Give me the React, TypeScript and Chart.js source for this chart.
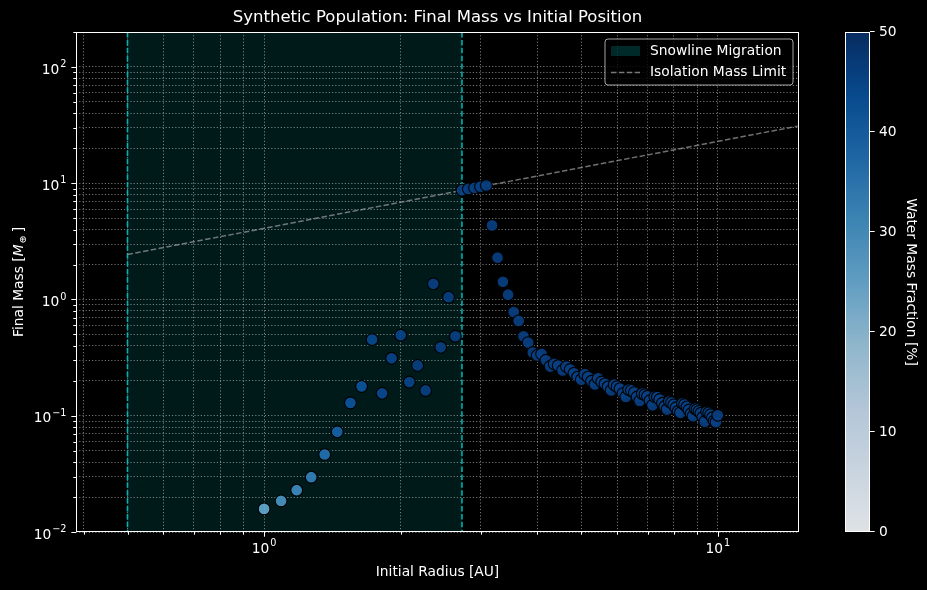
import { useEffect, useRef } from 'react';
import { Chart, registerables } from 'chart.js';

Chart.register(...registerables);

const W = 927;
const H = 590;
const FONT = '"DejaVu Sans", "Liberation Sans", sans-serif';

// Initial semi-major axis of each synthetic planet [AU]
const initialRadius = [
  1.0, 1.09, 1.18, 1.27, 1.36, 1.45, 1.55, 1.64, 1.73, 1.82,
  1.91, 2.0, 2.09, 2.18, 2.27, 2.36, 2.45, 2.55, 2.64, 2.73,
  2.82, 2.91, 3.0, 3.09, 3.18, 3.27, 3.36, 3.45, 3.55, 3.64,
  3.73, 3.82, 3.91, 4.0, 4.09, 4.18, 4.27, 4.36, 4.45, 4.55,
  4.64, 4.73, 4.82, 4.91, 5.0, 5.09, 5.18, 5.27, 5.36, 5.45,
  5.55, 5.64, 5.73, 5.82, 5.91, 6.0, 6.09, 6.18, 6.27, 6.36,
  6.45, 6.55, 6.64, 6.73, 6.82, 6.91, 7.0, 7.09, 7.18, 7.27,
  7.36, 7.45, 7.55, 7.64, 7.73, 7.82, 7.91, 8.0, 8.09, 8.18,
  8.27, 8.36, 8.45, 8.55, 8.64, 8.73, 8.82, 8.91, 9.0, 9.09,
  9.18, 9.27, 9.36, 9.45, 9.55, 9.64, 9.73, 9.82, 9.91, 10.0,
];

// Final planet mass [Earth masses]
const finalMass = [
  0.0158, 0.0185, 0.0229, 0.0296, 0.0464, 0.0728, 0.129, 0.179, 0.452, 0.156,
  0.312, 0.493, 0.195, 0.271, 0.165, 1.365, 0.388, 1.047, 0.483, 8.72,
  8.93, 9.14, 9.35, 9.56, 4.34, 2.29, 1.42, 1.1, 0.78, 0.655,
  0.483, 0.426, 0.35, 0.33, 0.34, 0.3, 0.265, 0.28, 0.27, 0.245,
  0.265, 0.25, 0.232, 0.215, 0.204, 0.228, 0.215, 0.198, 0.186, 0.21,
  0.195, 0.188, 0.177, 0.165, 0.185, 0.178, 0.171, 0.155, 0.145, 0.168,
  0.165, 0.158, 0.145, 0.134, 0.155, 0.152, 0.147, 0.135, 0.123, 0.146,
  0.145, 0.138, 0.128, 0.12, 0.113, 0.133, 0.13, 0.124, 0.117, 0.109,
  0.106, 0.128, 0.125, 0.119, 0.112, 0.104, 0.099, 0.115, 0.113, 0.109,
  0.105, 0.097, 0.089, 0.108, 0.106, 0.102, 0.096, 0.09, 0.088, 0.101,
];

// Water mass fraction of each planet [%]
const waterFraction = [
  26, 30, 32, 34, 37, 40, 43, 43, 45, 45,
  46, 46, 46, 47, 47, 47, 47, 47, 47, 47,
  47, 47, 47, 47, 47, 47, 47, 47, 47, 47,
  47, 47, 47, 47, 47, 47, 47, 47, 47, 47,
  47, 47, 47, 47, 47, 47, 47, 47, 47, 47,
  47, 47, 47, 47, 47, 47, 47, 47, 47, 47,
  47, 47, 47, 47, 47, 47, 47, 47, 47, 47,
  47, 47, 47, 47, 47, 47, 47, 47, 47, 47,
  47, 47, 47, 47, 47, 47, 47, 47, 47, 47,
  47, 47, 47, 47, 47, 47, 47, 47, 47, 47,
];

// Isolation mass limit (straight line in log-log space)
const isolationRadius = [0.5, 15];
const isolationMass = [2.44, 31];

// Snowline migration zone [AU]
const snowlineInner = 0.5;
const snowlineOuter = 2.73;

// Axis limits and tick values
const xLimits = [0.385, 15.1];
const yLimits = [0.01, 200];
const xTickValues = [0.4, 0.5, 0.6, 0.7, 0.8, 0.9, 1, 2, 3, 4, 5, 6, 7, 8, 9, 10];
const xMajorTicks = [1, 10];
const yTickValues = [
  0.01, 0.02, 0.03, 0.04, 0.05, 0.06, 0.07, 0.08, 0.09,
  0.1, 0.2, 0.3, 0.4, 0.5, 0.6, 0.7, 0.8, 0.9,
  1, 2, 3, 4, 5, 6, 7, 8, 9,
  10, 20, 30, 40, 50, 60, 70, 80, 90,
  100, 200,
];
const yMajorTicks = [0.01, 0.1, 1, 10, 100];
const colorbarTicks = [0, 10, 20, 30, 40, 50];
const colorbarRange = [0, 50];

// "Blues" colour ramp
const BLUES = [
  [247, 251, 255], [222, 235, 247], [198, 219, 239], [158, 202, 225], [107, 174, 214],
  [66, 146, 198], [33, 113, 181], [8, 81, 156], [8, 48, 107],
];
const POINT_ALPHA = 0.9;

function blues(t: number): number[] {
  const c = Math.max(0, Math.min(1, t)) * (BLUES.length - 1);
  const i = Math.min(BLUES.length - 2, Math.floor(c));
  const f = c - i;
  return [0, 1, 2].map((k) => BLUES[i][k] + (BLUES[i + 1][k] - BLUES[i][k]) * f);
}

function bluesRgba(t: number, a: number) {
  const [r, g, b] = blues(t);
  return `rgba(${Math.round(r)},${Math.round(g)},${Math.round(b)},${a})`;
}

const TICK_PX = 13.8;
const EXP_PX = 9.7;
const TITLE_PX = 16.5;

function powerLabel(v: number) {
  const e = Math.round(Math.log10(v));
  return e < 0 ? '\u2212' + Math.abs(e) : String(e);
}

function measurePow(ctx: CanvasRenderingContext2D, exp: string) {
  ctx.font = `${TICK_PX}px ${FONT}`;
  const bw = ctx.measureText('10').width;
  ctx.font = `${EXP_PX}px ${FONT}`;
  const ew = ctx.measureText(exp).width;
  return { bw, ew, w: bw + ew + 1 };
}

// draws 10^exp with the left edge at x and the base text centred on cy
function drawPow(ctx: CanvasRenderingContext2D, exp: string, x: number, cy: number) {
  const m = measurePow(ctx, exp);
  ctx.textAlign = 'left';
  ctx.textBaseline = 'middle';
  ctx.font = `${TICK_PX}px ${FONT}`;
  ctx.fillText('10', x, cy);
  ctx.font = `${EXP_PX}px ${FONT}`;
  ctx.fillText(exp, x + m.bw + 1, cy - 5.5);
}

const figurePlugin = {
  id: 'figureDecor',
  beforeDraw(chart: any) {
    const { ctx, chartArea: a, scales } = chart;
    ctx.save();
    ctx.fillStyle = '#000';
    ctx.fillRect(0, 0, W, H);
    const x0 = scales.x.getPixelForValue(snowlineInner);
    const x1 = scales.x.getPixelForValue(snowlineOuter);
    ctx.fillStyle = 'rgba(0,255,255,0.1)';
    ctx.fillRect(x0, a.top, x1 - x0, a.bottom - a.top);
    ctx.restore();
  },
  beforeDatasetsDraw(chart: any) {
    const { ctx, chartArea: a, scales } = chart;
    ctx.save();
    ctx.strokeStyle = 'rgba(0,191,191,0.9)';
    ctx.lineWidth = 1.6;
    ctx.setLineDash([5.5, 2.4]);
    for (const v of [snowlineInner, snowlineOuter]) {
      const x = scales.x.getPixelForValue(v);
      ctx.beginPath();
      ctx.moveTo(x, a.top);
      ctx.lineTo(x, a.bottom);
      ctx.stroke();
    }
    ctx.restore();
  },
  afterDraw(chart: any) {
    const { ctx, chartArea: a, scales } = chart;
    const xs = scales.x;
    const ys = scales.y;
    ctx.save();
    ctx.fillStyle = '#fff';
    ctx.strokeStyle = '#fff';
    ctx.lineWidth = 1;
    ctx.setLineDash([]);

    // spines
    ctx.strokeRect(Math.round(a.left) + 0.5, Math.round(a.top) + 0.5,
      Math.round(a.right - a.left) - 1, Math.round(a.bottom - a.top) - 1);

    // x ticks
    for (const v of xTickValues) {
      const x = Math.round(xs.getPixelForValue(v)) + 0.5;
      const len = xMajorTicks.includes(v) ? 4.7 : 2.7;
      ctx.beginPath();
      ctx.moveTo(x, a.bottom);
      ctx.lineTo(x, a.bottom + len);
      ctx.stroke();
    }
    for (const v of xMajorTicks) {
      const x = xs.getPixelForValue(v);
      const exp = powerLabel(v);
      const m = measurePow(ctx, exp);
      drawPow(ctx, exp, x - m.w / 2, a.bottom + 17);
    }

    // y ticks
    for (const v of yTickValues) {
      const y = Math.round(ys.getPixelForValue(v)) + 0.5;
      const len = yMajorTicks.includes(v) ? 4.7 : 2.7;
      ctx.beginPath();
      ctx.moveTo(a.left - len, y);
      ctx.lineTo(a.left, y);
      ctx.stroke();
    }
    for (const v of yMajorTicks) {
      const y = ys.getPixelForValue(v);
      const exp = powerLabel(v);
      const m = measurePow(ctx, exp);
      drawPow(ctx, exp, a.left - 9.5 - m.w, y + 3);
    }

    // title and axis labels
    const cx = (a.left + a.right) / 2;
    ctx.textAlign = 'center';
    ctx.textBaseline = 'middle';
    ctx.font = `${TITLE_PX}px ${FONT}`;
    ctx.fillText('Synthetic Population: Final Mass vs Initial Position', cx, 18);
    ctx.font = `${TICK_PX}px ${FONT}`;
    ctx.fillText('Initial Radius [AU]', cx, 572);

    // y label with M_earth
    const cy = (a.top + a.bottom) / 2;
    ctx.save();
    ctx.translate(18, cy);
    ctx.rotate(-Math.PI / 2);
    const p1 = 'Final Mass [';
    ctx.font = `${TICK_PX}px ${FONT}`;
    const w1 = ctx.measureText(p1).width;
    ctx.font = `italic ${TICK_PX}px ${FONT}`;
    const wM = ctx.measureText('M').width;
    ctx.font = `${EXP_PX}px ${FONT}`;
    const wE = ctx.measureText('\u2295').width;
    ctx.font = `${TICK_PX}px ${FONT}`;
    const wB = ctx.measureText(']').width;
    const total = w1 + wM + 1 + wE + 3 + wB;
    let px = -total / 2;
    ctx.textAlign = 'left';
    ctx.textBaseline = 'alphabetic';
    ctx.font = `${TICK_PX}px ${FONT}`;
    ctx.fillText(p1, px, 5);
    px += w1;
    ctx.font = `italic ${TICK_PX}px ${FONT}`;
    ctx.fillText('M', px, 5);
    px += wM + 1;
    ctx.font = `${EXP_PX}px ${FONT}`;
    ctx.fillText('\u2295', px, 7.5);
    px += wE + 3;
    ctx.font = `${TICK_PX}px ${FONT}`;
    ctx.fillText(']', px, 5);
    ctx.restore();

    // legend
    const lx = 605, ly = 39, lw = 188, lh = 46, r = 3;
    ctx.beginPath();
    ctx.moveTo(lx + r, ly);
    ctx.arcTo(lx + lw, ly, lx + lw, ly + lh, r);
    ctx.arcTo(lx + lw, ly + lh, lx, ly + lh, r);
    ctx.arcTo(lx, ly + lh, lx, ly, r);
    ctx.arcTo(lx, ly, lx + lw, ly, r);
    ctx.closePath();
    ctx.fillStyle = 'rgba(0,0,0,0.8)';
    ctx.fill();
    ctx.strokeStyle = 'rgba(204,204,204,0.8)';
    ctx.stroke();
    ctx.fillStyle = 'rgba(0,255,255,0.16)';
    ctx.fillRect(611, 46, 29, 10);
    ctx.strokeStyle = 'rgba(160,160,160,0.75)';
    ctx.lineWidth = 1.5;
    ctx.setLineDash([5.5, 2.4]);
    ctx.beginPath();
    ctx.moveTo(611, 72.5);
    ctx.lineTo(640, 72.5);
    ctx.stroke();
    ctx.setLineDash([]);
    ctx.lineWidth = 1;
    ctx.fillStyle = '#fff';
    ctx.textAlign = 'left';
    ctx.textBaseline = 'middle';
    ctx.font = `${TICK_PX}px ${FONT}`;
    ctx.fillText('Snowline Migration', 650, 51);
    ctx.fillText('Isolation Mass Limit', 650, 72.5);

    // colorbar
    const cbL = 845, cbR = 870, cbT = a.top, cbB = a.bottom;
    const grad = ctx.createLinearGradient(0, cbB, 0, cbT);
    for (let i = 0; i <= 32; i++) {
      grad.addColorStop(i / 32, bluesRgba(i / 32, POINT_ALPHA));
    }
    ctx.fillStyle = grad;
    ctx.fillRect(cbL, cbT, cbR - cbL, cbB - cbT);
    ctx.strokeStyle = '#fff';
    ctx.strokeRect(cbL + 0.5, Math.round(cbT) + 0.5, cbR - cbL - 1, Math.round(cbB - cbT) - 1);
    ctx.fillStyle = '#fff';
    ctx.font = `${TICK_PX}px ${FONT}`;
    ctx.textAlign = 'left';
    ctx.textBaseline = 'middle';
    for (const v of colorbarTicks) {
      const t = (v - colorbarRange[0]) / (colorbarRange[1] - colorbarRange[0]);
      const y = Math.round(cbB - t * (cbB - cbT)) - 0.5;
      ctx.beginPath();
      ctx.moveTo(cbR, y);
      ctx.lineTo(cbR + 4.7, y);
      ctx.stroke();
      ctx.fillText(String(v), cbR + 9, y + 1);
    }
    ctx.save();
    ctx.translate(911, cy);
    ctx.rotate(Math.PI / 2);
    ctx.textAlign = 'center';
    ctx.textBaseline = 'middle';
    ctx.fillText('Water Mass Fraction [%]', 0, 0);
    ctx.restore();

    ctx.restore();
  },
};

export default function App() {
  const ref = useRef<HTMLCanvasElement>(null);

  useEffect(() => {
    document.body.style.margin = '0';
    document.body.style.background = '#000';
    const canvas = ref.current;
    if (!canvas) return;

    const planets = initialRadius.map((r, i) => ({ x: r, y: finalMass[i] }));
    const colors = waterFraction.map((w) =>
      bluesRgba((w - colorbarRange[0]) / (colorbarRange[1] - colorbarRange[0]), POINT_ALPHA));
    const isolation = isolationRadius.map((r, i) => ({ x: r, y: isolationMass[i] }));

    const gridStyle = { color: 'rgba(255,255,255,0.45)', lineWidth: 1, drawTicks: false };
    const borderStyle = { display: false, dash: [1.2, 2] };

    const chart = new Chart(canvas, {
      type: 'scatter',
      data: {
        datasets: [
          {
            label: 'Planets',
            data: planets,
            pointRadius: 5.9,
            pointBackgroundColor: colors,
            pointBorderColor: '#000',
            pointBorderWidth: 1.1,
          },
          {
            label: 'Isolation Mass Limit',
            data: isolation,
            showLine: true,
            pointRadius: 0,
            borderColor: 'rgba(160,160,160,0.7)',
            borderWidth: 1.5,
            borderDash: [5.5, 2.4],
          },
        ],
      },
      options: {
        animation: false,
        responsive: false,
        devicePixelRatio: 1,
        layout: { padding: { left: 0, right: W - 799, top: 32, bottom: 0 } },
        scales: {
          x: {
            type: 'logarithmic',
            min: xLimits[0],
            max: xLimits[1],
            afterBuildTicks: (s: any) => { s.ticks = xTickValues.map((v) => ({ value: v })); },
            afterFit: (s: any) => { s.height = H - 532; },
            ticks: { display: false },
            grid: gridStyle,
            border: borderStyle,
          },
          y: {
            type: 'logarithmic',
            min: yLimits[0],
            max: yLimits[1],
            afterBuildTicks: (s: any) => { s.ticks = yTickValues.map((v) => ({ value: v })); },
            afterFit: (s: any) => { s.width = 76; },
            ticks: { display: false },
            grid: gridStyle,
            border: borderStyle,
          },
        },
        plugins: {
          legend: { display: false },
          tooltip: { enabled: false },
          title: { display: false },
        },
      },
      plugins: [figurePlugin],
    } as any);

    return () => chart.destroy();
  }, []);

  return (
    <div style={{ width: W, height: H, background: '#000' }}>
      <canvas ref={ref} width={W} height={H} style={{ display: 'block', width: W, height: H }} />
    </div>
  );
}
